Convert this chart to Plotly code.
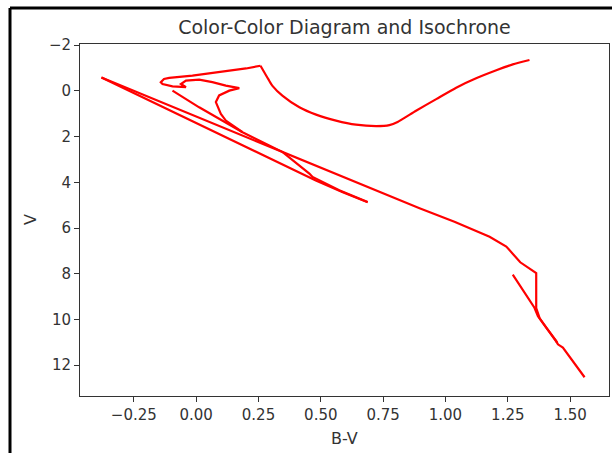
import plotly.graph_objects as go

# ---- data (B-V colour, V magnitude) ----
lower_ms_bv = [1.558, 1.525, 1.490, 1.471, 1.451, 1.444, 1.404, 1.371, 1.357, 1.270]
lower_ms_v = [12.53, 12.03, 11.50, 11.23, 11.09, 10.94, 10.36, 9.86, 9.49, 8.04]

branch_bv = [1.448, 1.410, 1.378, 1.364, 1.364, 1.364, 1.300, 1.244, 1.177, 1.036, 0.896, -0.380]
branch_v = [11.02, 10.45, 9.95, 9.50, 9.30, 7.97, 7.50, 6.81, 6.38, 5.73, 5.14, -0.58]

return_bv = [-0.380, 0.480, 0.588, 0.688]
return_v = [-0.58, 3.92, 4.44, 4.87]

upper_ms_bv = [0.688, 0.588, 0.574, 0.481, 0.467, 0.454, 0.347, 0.293, 0.186, 0.012, -0.095]
upper_ms_v = [4.86, 4.42, 4.35, 3.84, 3.77, 3.62, 2.68, 2.39, 1.81, 0.72, -0.01]

loop_bv = [0.186, 0.159, 0.119, 0.099, 0.086, 0.079, 0.092, 0.133, 0.173, 0.119, 0.065,
           0.012, -0.041, -0.061, -0.041, -0.095, -0.135, -0.142, -0.129, -0.108,
           -0.015, 0.106, 0.200, 0.258]
loop_v = [1.81, 1.60, 1.30, 1.01, 0.70, 0.49, 0.20, -0.01, -0.12, -0.23, -0.38,
          -0.49, -0.45, -0.30, -0.16, -0.20, -0.30, -0.38, -0.52, -0.57,
          -0.67, -0.83, -0.98, -1.10]

giant_bv = [0.258, 0.290, 0.306, 0.347, 0.414, 0.481, 0.561, 0.641, 0.722, 0.775, 0.808,
            0.882, 0.963, 1.043, 1.123, 1.204, 1.270, 1.337]
giant_v = [-1.10, -0.50, -0.22, 0.22, 0.72, 1.04, 1.30, 1.48, 1.54, 1.50, 1.36,
           0.87, 0.36, -0.14, -0.55, -0.90, -1.16, -1.35]

x_ticks = [-0.25, 0.0, 0.25, 0.5, 0.75, 1.0, 1.25, 1.5]
x_labels = ["\u22120.25", "0.00", "0.25", "0.50", "0.75", "1.00", "1.25", "1.50"]
y_ticks = [-2, 0, 2, 4, 6, 8, 10, 12]
y_labels = ["\u22122", "0", "2", "4", "6", "8", "10", "12"]

segments = [
    (lower_ms_bv, lower_ms_v, "linear"),
    (branch_bv, branch_v, "linear"),
    (return_bv, return_v, "linear"),
    (upper_ms_bv, upper_ms_v, "linear"),
    (loop_bv, loop_v, "linear"),
    (giant_bv, giant_v, "spline"),
]

fig = go.Figure()
for bv, v, shape in segments:
    line = dict(color="#ff0000", width=2.2, shape=shape)
    if shape == "spline":
        line["smoothing"] = 0.6
    fig.add_trace(go.Scatter(x=bv, y=v, mode="lines", line=line,
                             showlegend=False, hoverinfo="skip"))

FONT = "DejaVu Sans"
TXT = "#333333"

axis_common = dict(showgrid=False, zeroline=False, showline=True, mirror=True,
                   linecolor="#333333", linewidth=1, ticks="outside", ticklen=5,
                   tickwidth=1, tickcolor="#333333",
                   tickfont=dict(family=FONT, size=15, color=TXT))

fig.update_layout(
    width=612, height=453,
    margin=dict(l=80, r=3, t=44, b=57),
    paper_bgcolor="white", plot_bgcolor="white",
    title=dict(text="Color-Color Diagram and Isochrone", x=0.5, xref="paper",
               y=1 - 27 / 453, yref="container", xanchor="center", yanchor="middle",
               font=dict(family=FONT, size=19, color=TXT)),
    xaxis=dict(range=[-0.466, 1.656], tickvals=x_ticks, ticktext=x_labels, **axis_common),
    yaxis=dict(range=[13.35, -2.05], tickvals=y_ticks, ticktext=y_labels, **axis_common),
    annotations=[
        dict(text="B-V", x=0.5, y=(396 - 438) / 352, xref="paper", yref="paper",
             showarrow=False, xanchor="center", yanchor="middle",
             font=dict(family=FONT, size=16, color=TXT)),
        dict(text="V", x=(30 - 80) / 529, y=0.5, xref="paper", yref="paper",
             showarrow=False, xanchor="center", yanchor="middle", textangle=-90,
             font=dict(family=FONT, size=16, color=TXT)),
    ],
    shapes=[
        dict(type="line", xref="paper", yref="paper",
             x0=(10 - 80) / 529, x1=(10 - 80) / 529,
             y0=(396 - 8) / 352, y1=-0.25, line=dict(color="black", width=3)),
        dict(type="line", xref="paper", yref="paper",
             x0=(10 - 80) / 529, x1=1.05,
             y0=(396 - 8) / 352, y1=(396 - 8) / 352, line=dict(color="black", width=3)),
    ],
)

fig.write_html("out.html")
